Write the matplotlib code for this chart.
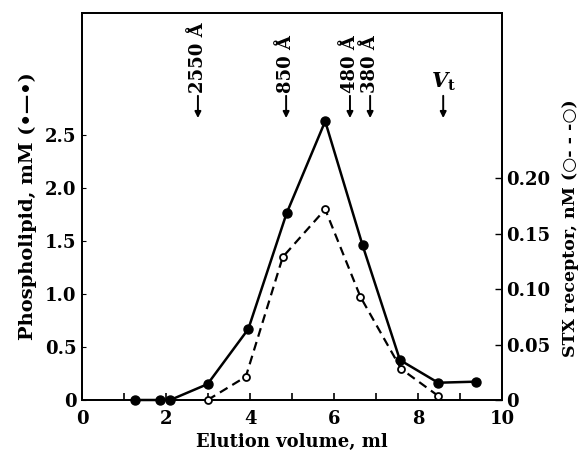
import matplotlib
matplotlib.use("Agg")
import matplotlib.pyplot as plt

plt.rcParams['font.family'] = ['DejaVu Serif', 'DejaVu Sans']
plt.rcParams['font.weight'] = 'bold'
plt.rcParams['mathtext.fontset'] = 'dejavuserif'

# Data
phos_x = [1.25, 1.86, 2.1, 2.99, 3.96, 4.87, 5.79, 6.68, 7.57, 8.48, 9.37]
phos_y = [0, 0, 0, 0.15, 0.67, 1.76, 2.63, 1.46, 0.377, 0.163, 0.173]
stx_x = [2.99, 3.9, 4.78, 5.79, 6.63, 7.6, 8.47]
stx_y = [0.0, 0.021, 0.129, 0.172, 0.093, 0.028, 0.004]

marker_x = [2.76, 4.86, 6.38, 6.86, 8.6]
marker_labels = ["2550 Å", "850 Å", "480 Å", "380 Å", r"$V_{\rm t}$"]

x_ticks = [0, 2, 4, 6, 8, 10]
left_ticks = [0, 0.5, 1.0, 1.5, 2.0, 2.5]
left_labels = ["0", "0.5", "1.0", "1.5", "2.0", "2.5"]
right_ticks = [0, 0.05, 0.10, 0.15, 0.20]
right_labels = ["0", "0.05", "0.10", "0.15", "0.20"]

fig = plt.figure(figsize=(5.87, 4.53), dpi=100)
ax = fig.add_axes([0.1397, 0.117, 0.7155, 0.854])
ax2 = ax.twinx()

ax.set_xlim(0, 10)
ax.set_ylim(0, 3.65)
ax2.set_ylim(0, 0.349)

ax.plot(phos_x, phos_y, '-o', color='black', lw=1.8, ms=6.5,
        markerfacecolor='black', clip_on=False, zorder=3)
ax2.plot(stx_x, stx_y, '--o', color='black', lw=1.6, ms=5,
         markerfacecolor='white', markeredgewidth=1.3, dashes=(4, 2.5),
         clip_on=False, zorder=3)

ax.set_xticks(range(0, 11))
ax.set_xticklabels([str(v) if v in x_ticks else "" for v in range(0, 11)])
ax.set_yticks(left_ticks)
ax.set_yticklabels(left_labels)
ax2.set_yticks(right_ticks)
ax2.set_yticklabels(right_labels)

ax.tick_params(axis='x', direction='in', length=5, width=1.2, labelsize=13, pad=7)
ax.tick_params(axis='y', direction='in', length=3, width=0.8, labelsize=13, pad=4)
ax2.tick_params(axis='y', direction='in', length=5, width=1.0, labelsize=13, pad=3)

for a in (ax, ax2):
    for s in a.spines.values():
        s.set_linewidth(1.3)

ax.set_xlabel("Elution volume, ml", fontsize=13, fontweight='bold', labelpad=4)
ax.set_ylabel("Phospholipid, mM (•—•)", fontsize=14, fontweight='bold',
              family=['DejaVu Serif', 'DejaVu Sans'])
ax.yaxis.set_label_coords(-0.107, 0.5)
ax2.set_ylabel("STX receptor, nM (○- - -○)", fontsize=12.5, fontweight='bold',
               family=['DejaVu Serif', 'DejaVu Sans'])
ax2.yaxis.set_label_coords(1.143, 0.444)

for x, lab in zip(marker_x, marker_labels):
    ax.annotate("", xy=(x, 2.66), xytext=(x, 2.87),
                arrowprops=dict(arrowstyle='-|>', color='black', lw=1.4,
                                mutation_scale=9, shrinkA=0, shrinkB=0))
    if lab.startswith("$"):
        ax.text(x, 2.90, lab, ha='center', va='bottom', fontsize=15)
    else:
        ax.text(x, 2.90, lab, ha='center', va='bottom', rotation=90,
                fontsize=13, fontweight='bold')

fig.savefig("out.png", dpi=100)
